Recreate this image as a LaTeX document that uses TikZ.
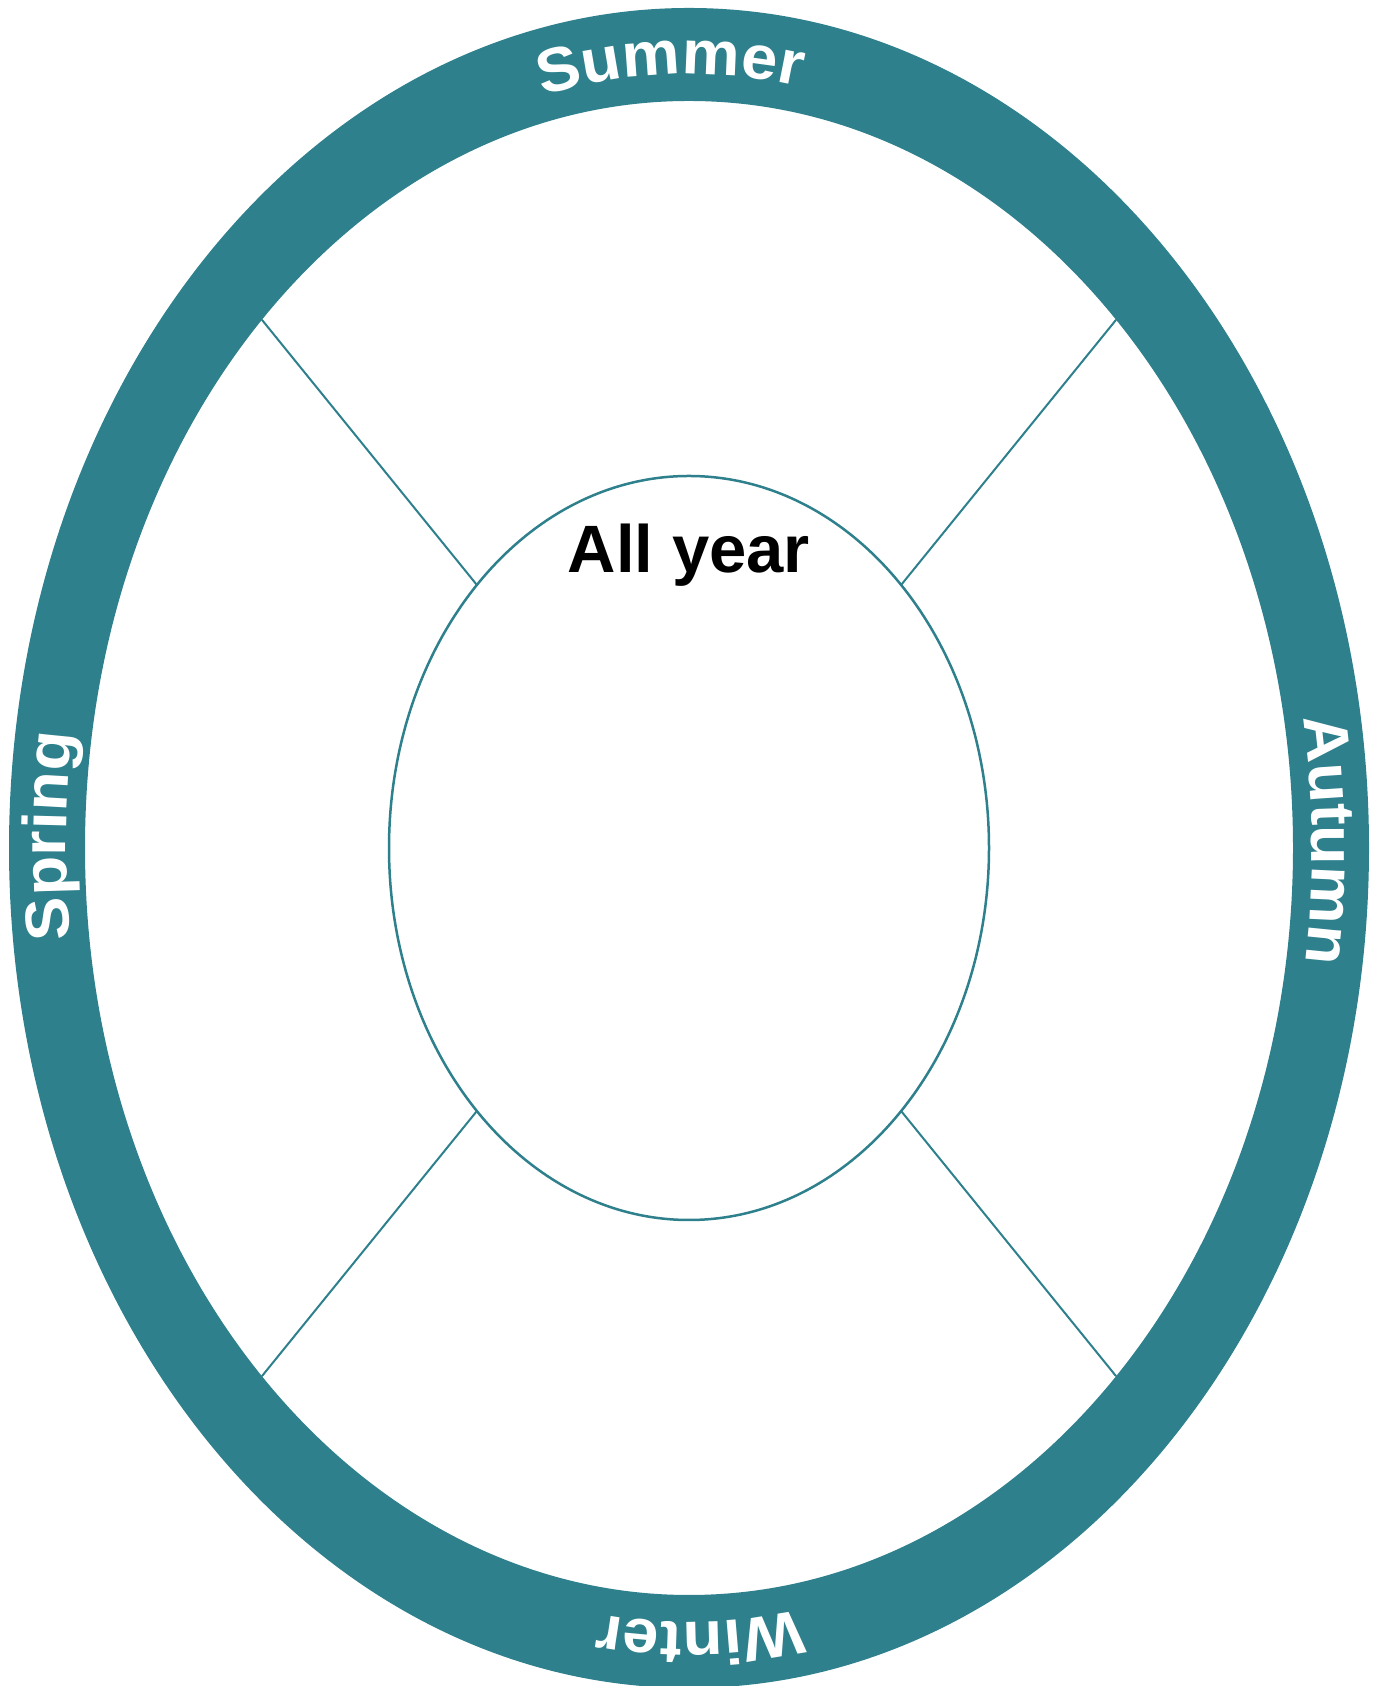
\documentclass[tikz,border=0pt]{standalone}
\usepackage{fontspec}
\setmainfont{Liberation Sans}
\newfontfamily\ringfont[LetterSpace=6.5,FakeStretch=1.05]{Liberation Sans}
\usetikzlibrary{decorations.text}
\definecolor{ringteal}{RGB}{46,128,140}
\tikzset{
  seasontext/.style={decorate, decoration={text along path, text align=center,
    text={|\ringfont\bfseries\fontsize{62}{70}\selectfont\color{white}|#1}}},
  spoke/.style={draw=ringteal, line width=2pt},
}
\begin{document}
\begin{tikzpicture}[x=1pt,y=1pt]
\useasboundingbox (0,0) rectangle (1383,1686);
\coordinate (c) at (689,838);
% ring
\fill[ringteal, even odd rule] (c) ellipse [x radius=680pt, y radius=840pt]
  (c) ellipse [x radius=604pt, y radius=747pt];
% inner ellipse
\draw[ringteal, line width=2.5pt] (c) ellipse [x radius=300pt, y radius=372pt];
% spoke end points
\foreach \a in {45,135,225,315}{
  \coordinate (o\a) at ([shift={(\a:604pt and 747pt)}]c);
  \coordinate (i\a) at ([shift={(\a:300pt and 372pt)}]c);
}
\draw[spoke] (o45) -- (i45);
\draw[spoke] (o135) -- (i135);
\draw[spoke] (o225) -- (i225);
\draw[spoke] (o315) -- (i315);
% title
\node[anchor=base, font=\bfseries\fontsize{67}{75}\selectfont, inner sep=0pt] (allyear) at (689,1113) {All year};
% season labels along the ring
\path[seasontext=Summer] ([shift={(116.6:623pt and 774pt)}]c) arc[start angle=116.6, end angle=66.6, x radius=623pt, y radius=774pt];
\path[seasontext=Autumn] ([shift={(25.6:623pt and 774pt)}]c) arc[start angle=25.6, end angle=-24.4, x radius=623pt, y radius=774pt];
\path[seasontext=Winter] ([shift={(296:623pt and 774pt)}]c) arc[start angle=296, end angle=246, x radius=623pt, y radius=774pt];
\path[seasontext=Spring] ([shift={(204.1:623pt and 774pt)}]c) arc[start angle=204.1, end angle=154.1, x radius=623pt, y radius=774pt];
\end{tikzpicture}
\end{document}
